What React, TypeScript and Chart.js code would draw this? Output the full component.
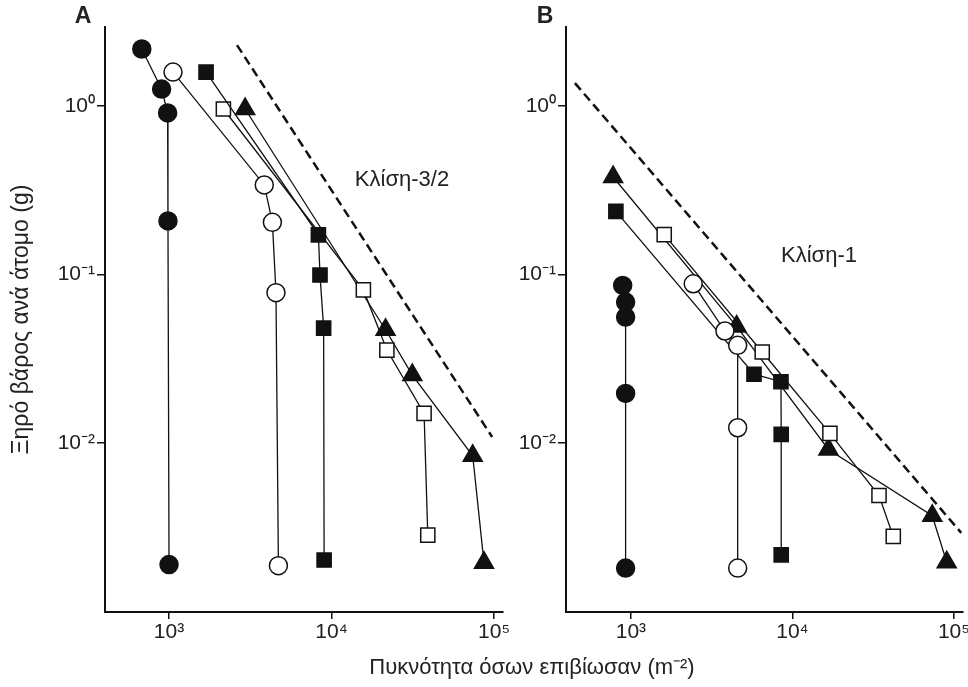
import React, { useEffect, useRef } from 'react';
import { Chart, registerables } from 'chart.js';

Chart.register(...registerables);

// ---------- Panel A data ----------
const aFilledCircleX = [680, 900, 980, 985, 1000];
const aFilledCircleY = [2.18, 1.26, 0.91, 0.208, 0.0019];
const aOpenCircleX = [1058, 3855, 4325, 4550, 4710];
const aOpenCircleY = [1.59, 0.34, 0.204, 0.078, 0.00187];
const aFilledSquareX = [1690, 8300, 8490, 8940, 9000];
const aFilledSquareY = [1.59, 0.172, 0.0993, 0.0481, 0.00202];
const aOpenSquareX = [2160, 15700, 21900, 37100, 39100];
const aOpenSquareY = [0.96, 0.081, 0.0356, 0.015, 0.00284];
const aTriangleX = [2940, 21500, 31400, 73900, 86700];
const aTriangleY = [0.96, 0.047, 0.0253, 0.0084, 0.00195];
const aSlopeX = [2620, 97300];
const aSlopeY = [2.3, 0.01086];

// ---------- Panel B data ----------
const bFilledCircleX = [889, 927, 927, 927, 927];
const bFilledCircleY = [0.0861, 0.0686, 0.0559, 0.0197, 0.00181];
const bOpenCircleX = [2430, 3820, 4580, 4580, 4580];
const bOpenCircleY = [0.0881, 0.0462, 0.038, 0.01232, 0.00181];
const bFilledSquareX = [807, 5780, 8490, 8520, 8520];
const bFilledSquareY = [0.237, 0.0256, 0.0231, 0.01125, 0.00217];
const bOpenSquareX = [1607, 6500, 17060, 34350, 42100];
const bOpenSquareY = [0.1725, 0.0347, 0.0114, 0.00488, 0.00279];
const bTriangleX = [776, 4510, 16700, 73400, 90200];
const bTriangleY = [0.379, 0.0492, 0.00916, 0.0037, 0.00196];
const bSlopeX = [450, 111000];
const bSlopeY = [1.368, 0.00293];

// ---------- Axes ----------
const xTickValues = [1e3, 1e4, 1e5];
const xTickLabels = ['10³', '10⁴', '10⁵'];
const yTickValues = [1e-2, 1e-1, 1e0];
const yTickLabels = ['10⁻²', '10⁻¹', '10⁰'];
const xMinA = Math.pow(10, 2.606);
const xMaxA = Math.pow(10, 5.055);
const xMinB = Math.pow(10, 2.598);
const xMaxB = Math.pow(10, 5.056);
const yMin = Math.pow(10, -3.003);
const yMax = Math.pow(10, 0.469);

const yTitle = 'Ξηρό βάρος ανά άτομο (g)';
const xTitle = 'Πυκνότητα όσων επιβίωσαν (m⁻²)';
const slopeLabelA = 'Κλίση-3/2';
const slopeLabelB = 'Κλίση-1';

const INK = '#111';
const TEXT = '#222';
const FAMILY = "'Liberation Sans', Arial, Helvetica, sans-serif";

const W = 968;
const H = 687;
const CANVAS_B_W = 1000;

function pts(xs: number[], ys: number[]) {
  return xs.map((x, i) => ({ x, y: ys[i] }));
}

function series(xs: number[], ys: number[], style: string, filled: boolean, radius: number) {
  return {
    data: pts(xs, ys),
    showLine: true,
    borderColor: INK,
    borderWidth: 1.3,
    pointStyle: style,
    pointRadius: radius,
    pointHoverRadius: radius,
    pointBackgroundColor: filled ? INK : '#fff',
    pointBorderColor: INK,
    pointBorderWidth: 1.5,
    tension: 0,
    fill: false,
  };
}

function slope(xs: number[], ys: number[]) {
  return {
    data: pts(xs, ys),
    showLine: true,
    borderColor: INK,
    borderWidth: 2.5,
    borderDash: [9, 5],
    pointRadius: 0,
    pointHoverRadius: 0,
    fill: false,
    order: 10,
  };
}

type TextItem = { text: string; x: number; y: number; font: string };

function textPlugin(items: TextItem[]) {
  return {
    id: 'texts',
    afterDraw(chart: any) {
      const ctx = chart.ctx;
      ctx.save();
      ctx.fillStyle = TEXT;
      ctx.textAlign = 'center';
      ctx.textBaseline = 'middle';
      for (const it of items) {
        ctx.font = it.font;
        ctx.fillText(it.text, it.x, it.y);
      }
      ctx.restore();
    },
  };
}

function makeConfig(opts: {
  datasets: any[];
  xMin: number;
  xMax: number;
  yWidth: number;
  padding: any;
  showYTitle: boolean;
  texts: TextItem[];
}) {
  return {
    type: 'scatter',
    data: { datasets: opts.datasets },
    options: {
      responsive: false,
      animation: false,
      devicePixelRatio: 1,
      events: [],
      layout: { padding: opts.padding },
      plugins: { legend: { display: false }, tooltip: { enabled: false } },
      scales: {
        x: {
          type: 'logarithmic',
          min: opts.xMin,
          max: opts.xMax,
          afterBuildTicks: (s: any) => {
            s.ticks = xTickValues.map((v) => ({ value: v }));
          },
          afterFit: (s: any) => {
            s.height = 75;
            s.paddingLeft = 0;
            s.paddingRight = 0;
          },
          ticks: {
            autoSkip: false,
            maxRotation: 0,
            padding: 1,
            color: TEXT,
            font: { family: FAMILY, size: 21 },
            callback: (_v: any, i: number) => xTickLabels[i],
          },
          grid: { drawOnChartArea: false, drawTicks: true, tickLength: 7, color: INK, lineWidth: 1.5 },
          border: { display: true, color: INK, width: 2 },
        },
        y: {
          type: 'logarithmic',
          min: yMin,
          max: yMax,
          afterBuildTicks: (s: any) => {
            s.ticks = yTickValues.map((v) => ({ value: v }));
          },
          afterFit: (s: any) => {
            s.width = opts.yWidth;
            s.paddingTop = 0;
            s.paddingBottom = 0;
          },
          ticks: {
            autoSkip: false,
            padding: 2,
            color: TEXT,
            font: { family: FAMILY, size: 21 },
            callback: (_v: any, i: number) => yTickLabels[i],
          },
          grid: { drawOnChartArea: false, drawTicks: true, tickLength: 8, color: INK, lineWidth: 1.5 },
          border: { display: true, color: INK, width: 2 },
          title: {
            display: opts.showYTitle,
            text: yTitle,
            color: TEXT,
            font: { family: FAMILY, size: 23 },
            padding: { top: 8, bottom: 0 },
          },
        },
      },
    },
    plugins: [textPlugin(opts.texts)],
  };
}

export default function App() {
  const refA = useRef<HTMLCanvasElement | null>(null);
  const refB = useRef<HTMLCanvasElement | null>(null);

  useEffect(() => {
    const cfgA: any = makeConfig({
      datasets: [
        series(aFilledCircleX, aFilledCircleY, 'circle', true, 9),
        series(aOpenCircleX, aOpenCircleY, 'circle', false, 9),
        series(aFilledSquareX, aFilledSquareY, 'rect', true, 10),
        series(aOpenSquareX, aOpenSquareY, 'rect', false, 10),
        series(aTriangleX, aTriangleY, 'triangle', true, 11),
        slope(aSlopeX, aSlopeY),
      ],
      xMin: xMinA,
      xMax: xMaxA,
      yWidth: 105,
      padding: { left: 0, top: 27, right: W - 503, bottom: 0 },
      showYTitle: true,
      texts: [
        { text: 'A', x: 83, y: 17, font: `bold 23px ${FAMILY}` },
        { text: slopeLabelA, x: 402, y: 180, font: `22px ${FAMILY}` },
        { text: xTitle, x: 532, y: 668, font: `22px ${FAMILY}` },
      ],
    });
    const cfgB: any = makeConfig({
      datasets: [
        series(bFilledCircleX, bFilledCircleY, 'circle', true, 9),
        series(bOpenCircleX, bOpenCircleY, 'circle', false, 9),
        series(bFilledSquareX, bFilledSquareY, 'rect', true, 10),
        series(bOpenSquareX, bOpenSquareY, 'rect', false, 10),
        series(bTriangleX, bTriangleY, 'triangle', true, 11),
        slope(bSlopeX, bSlopeY),
      ],
      xMin: xMinB,
      xMax: xMaxB,
      yWidth: 60,
      padding: { left: 566 - 60, top: 27, right: CANVAS_B_W - 963, bottom: 0 },
      showYTitle: false,
      texts: [
        { text: 'B', x: 545, y: 17, font: `bold 23px ${FAMILY}` },
        { text: slopeLabelB, x: 819, y: 256, font: `22px ${FAMILY}` },
      ],
    });
    const a = new Chart(refA.current as HTMLCanvasElement, cfgA);
    const b = new Chart(refB.current as HTMLCanvasElement, cfgB);
    return () => {
      a.destroy();
      b.destroy();
    };
  }, []);

  return (
    <div
      style={{
        position: 'absolute',
        left: 0,
        top: 0,
        width: W,
        height: H,
        overflow: 'hidden',
        background: '#fff',
      }}
    >
      <canvas ref={refA} width={W} height={H} style={{ position: 'absolute', left: 0, top: 0 }} />
      <canvas ref={refB} width={CANVAS_B_W} height={H} style={{ position: 'absolute', left: 0, top: 0 }} />
    </div>
  );
}
